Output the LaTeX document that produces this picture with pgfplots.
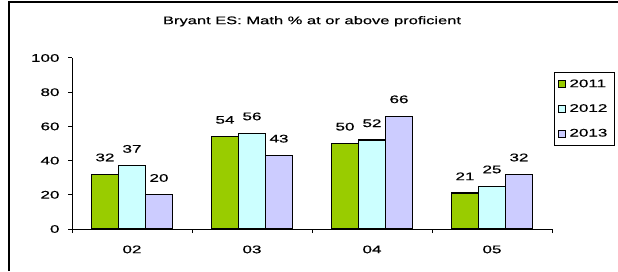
\documentclass[border=0pt]{standalone}
\usepackage{fontspec}
\setmainfont{Liberation Sans}[FakeStretch=1.5, FakeBold=0.5]
\newfontfamily\numfont{Liberation Sans}[FakeStretch=1.55, FakeBold=0.5]
\usepackage{pgfplots}
\pgfplotsset{compat=1.18}
\definecolor{cgreen}{HTML}{99CC00}
\definecolor{ccyan}{HTML}{CCFFFF}
\definecolor{cpurple}{HTML}{CCCCFF}
\newcommand{\cf}{\fontsize{11bp}{12bp}\selectfont}
\newcommand{\nf}{\numfont\fontsize{11bp}{12bp}\selectfont}
\begin{document}
\begin{tikzpicture}[x=1bp,y=1bp]
\useasboundingbox (0,0) rectangle (618,271);
\draw[line width=2bp] (9,0) -- (9,269) -- (618,269);
\begin{axis}[
 at={(72bp,42bp)}, anchor=south west,
 scale only axis, width=480bp, height=171bp,
 xmin=-0.5, xmax=3.5, ymin=0, ymax=100,
 /pgf/number format/assume math mode=true,
 axis x line*=bottom, axis y line*=left,
 axis line style={line width=1bp},
 ybar=0pt, bar width=27bp,
 xtick={-0.5,0.5,1.5,2.5,3.5}, xticklabels={},
 extra x ticks={0,1,2,3}, extra x tick labels={02,03,04,05},
 extra x tick style={major tick length=0pt, xticklabel style={yshift=-13bp}},
 ytick={0,20,...,100},
 tick align=outside, major tick length=4bp,
 tick style={line width=1bp, black},
 tick label style={font=\nf},
 yticklabel style={xshift=-5bp},
 nodes near coords,
 every node near coord/.append style={font=\nf, anchor=south, yshift=9bp},
 title={Bryant ES: Math \% at or above proficient},
 title style={at={(0.5,1.163)}, anchor=base, yshift=0pt, font=\cf},
 legend style={at={(1.131,0.918)}, anchor=north east, draw=black, line width=1bp,
   font=\nf, row sep=11.5bp, inner xsep=3bp, inner ysep=5bp, nodes={inner xsep=4bp}},
 legend cell align=left,
 legend image code/.code={\draw[#1, line width=0.8bp] (0bp,-3.5bp) rectangle (7bp,3.5bp);},
]
\addplot[fill=cgreen, draw=black, line width=1.2bp] coordinates {(0,32) (1,54) (2,50) (3,21)};
\addplot[fill=ccyan, draw=black, line width=1.2bp] coordinates {(0,37) (1,56) (2,52) (3,25)};
\addplot[fill=cpurple, draw=black, line width=1.2bp] coordinates {(0,20) (1,43) (2,66) (3,32)};
\legend{2011,2012,2013}
\end{axis}
\end{tikzpicture}
\end{document}
